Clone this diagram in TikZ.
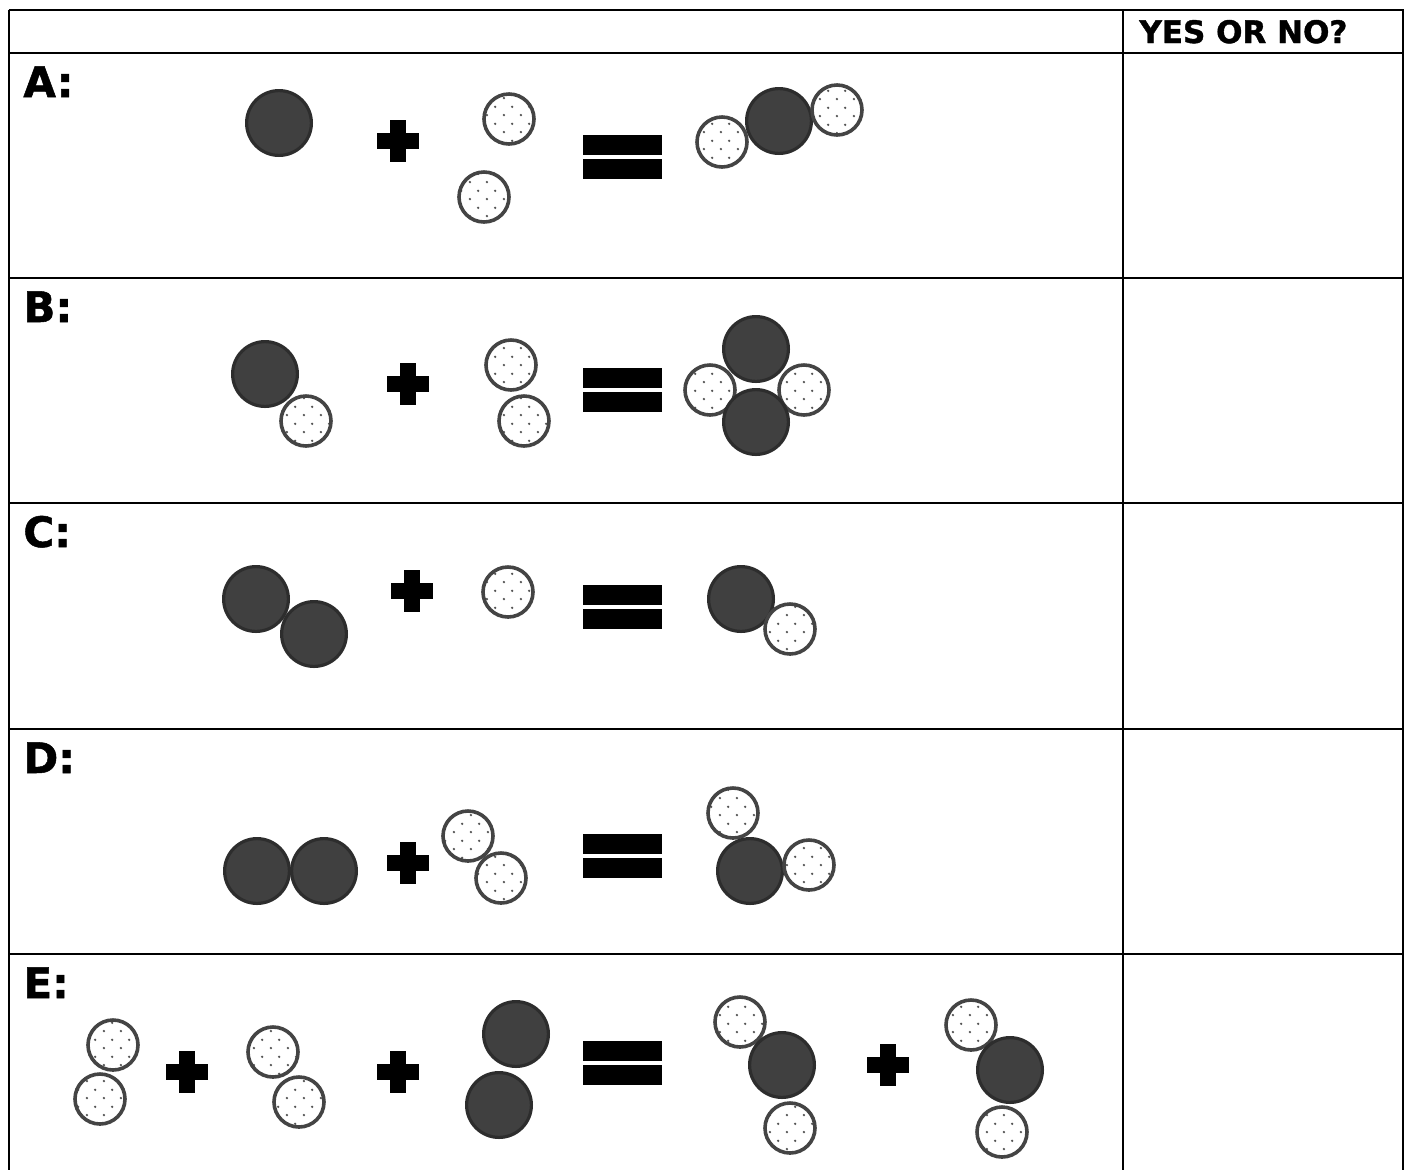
\documentclass[tikz,border=0pt]{standalone}
\usepackage{fontspec}
\setmainfont{DejaVu Sans}[BoldFeatures={FakeBold=1.2}]
\usetikzlibrary{patterns.meta}
\definecolor{darkfill}{HTML}{404040}
\definecolor{darkline}{HTML}{2D2D2D}
\definecolor{dotline}{HTML}{444444}
\definecolor{dotgray}{HTML}{555555}
\tikzdeclarepattern{
  name=mydots,
  type=uncolored,
  bounding box={(0pt,0pt) and (8.33pt,8.33pt)},
  tile size={(8.33pt,8.33pt)},
  code={
    \fill (2pt,2pt) circle[radius=0.65pt];
    \fill (6.17pt,6.17pt) circle[radius=0.65pt];
  }
}
\tikzset{
  darkcirc/.style={draw=darkline, fill=darkfill, line width=1.6pt},
  dotcirc/.style={draw=dotline, line width=1.8pt, preaction={fill=white}, pattern=mydots, pattern color=dotgray},
  rowlabel/.style={anchor=base west, inner sep=0pt, font=\bfseries\fontsize{21pt}{24pt}\selectfont},
  headlabel/.style={anchor=base west, inner sep=0pt, font=\bfseries\fontsize{15.5pt}{18pt}\selectfont},
  gridline/.style={line width=1pt, black}
}
\newcommand\darkc[2]{\draw[darkcirc] (#1,#2) circle[radius=16.2pt];}
\newcommand\dotc[2]{\draw[dotcirc] (#1,#2) circle[radius=12.5pt];}
\newcommand\plussign[2]{\fill[black] (#1-21,#2-8) rectangle (#1+21,#2+8); \fill[black] (#1-8,#2-21) rectangle (#1+8,#2+21);}
\newcommand\equalsign[2]{\fill[black] (#1-39.5,#2-22) rectangle (#1+39.5,#2-2); \fill[black] (#1-39.5,#2+2) rectangle (#1+39.5,#2+22);}
\begin{document}
\begin{tikzpicture}[x=0.5pt,y=-0.5pt]
\useasboundingbox[fill=white] (0,0) rectangle (1408,1169);
% table
\foreach \yy in {10,53,278,503,729,954} \draw[gridline] (8.5,\yy) -- (1403.5,\yy);
\foreach \xx in {9,1123,1403} \draw[gridline] (\xx,9.5) -- (\xx,1170);
% header
\node[headlabel] (head) at (1139,43) {YES OR NO?};
% labels
\node[rowlabel] (la) at (23,97) {A:};
\node[rowlabel] (lb) at (23,322) {B:};
\node[rowlabel] (lc) at (23,547) {C:};
\node[rowlabel] (ld) at (23,773) {D:};
\node[rowlabel] (le) at (23,998) {E:};
% Row A
\darkc{279}{123}
\plussign{398}{141}
\dotc{509}{119}
\dotc{484}{197}
\equalsign{622}{157}
\dotc{722}{142}
\darkc{779}{121}
\dotc{837}{110}
% Row B
\darkc{265}{374}
\dotc{306}{421}
\plussign{408}{384}
\dotc{511}{365}
\dotc{524}{421}
\equalsign{622}{390}
\darkc{756}{349}
\dotc{710}{390}
\dotc{804}{390}
\darkc{756}{422}
% Row C
\darkc{256}{599}
\darkc{314}{634}
\plussign{412}{591}
\dotc{508}{592}
\equalsign{622}{607}
\darkc{741}{599}
\dotc{790}{629}
% Row D
\darkc{257}{871}
\darkc{324}{871}
\plussign{408}{863}
\dotc{468}{836}
\dotc{501}{878}
\equalsign{622}{856}
\dotc{733}{813}
\darkc{750}{871}
\dotc{809}{865}
% Row E
\dotc{113}{1045}
\dotc{100}{1099}
\plussign{187}{1072}
\dotc{273}{1052}
\dotc{299}{1102}
\plussign{398}{1072}
\darkc{516}{1034}
\darkc{499}{1105}
\equalsign{622}{1063}
\dotc{740}{1022}
\darkc{782}{1065}
\dotc{790}{1128}
\plussign{888}{1065}
\dotc{971}{1025}
\darkc{1010}{1070}
\dotc{1002}{1132}
\end{tikzpicture}
\end{document}
